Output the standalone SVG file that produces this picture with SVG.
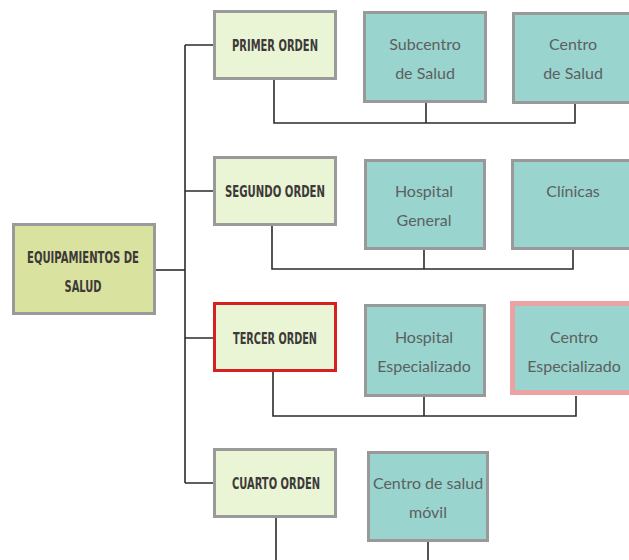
<svg xmlns="http://www.w3.org/2000/svg" width="629" height="560" viewBox="0 0 629 560">
  <style>
    .bg { fill: #ffffff; }
    .root { fill: #d9e29e; stroke: #9a9a9a; stroke-width: 3; }
    .order { fill: #e9f5d4; stroke: #9a9a9a; stroke-width: 3; }
    .order-hl { fill: #e9f5d4; stroke: #d42222; stroke-width: 3; }
    .unit { fill: #99d4ce; stroke: #999999; stroke-width: 3; }
    .unit-hl { fill: #99d4ce; stroke: #eba2a2; stroke-width: 5; }
    .lbl-b { font-family: "Liberation Sans Narrow", "DejaVu Sans Condensed", "Liberation Sans", sans-serif; font-weight: bold; font-size: 16px; fill: #3d3939; text-anchor: middle; }
    .lbl { font-family: Lato, "Open Sans", "Liberation Sans", sans-serif; font-size: 16px; fill: #5c6060; text-anchor: middle; }
    .wire { fill: none; stroke: #2b2b2b; stroke-width: 1.6; }
  </style>
  <rect class="bg" x="0" y="0" width="629" height="560"/>

  <g id="connectors">
    <!-- root to trunk -->
    <path class="wire" d="M155 270 H185"/>
    <path class="wire" d="M185 45 V483"/>
    <path class="wire" d="M185 45 H213 M185 191 H213 M185 338 H213 M185 483 H213"/>
    <!-- primer orden -->
    <path class="wire" d="M274 79 V123 H575 V104 M426 102 V123"/>
    <!-- segundo orden -->
    <path class="wire" d="M272 225 V269 H573 V250 M424 249 V269"/>
    <!-- tercer orden -->
    <path class="wire" d="M273 371 V416 H576 V396 M424 396 V416"/>
    <!-- cuarto orden -->
    <path class="wire" d="M276 517 V560 M428 541 V560"/>
  </g>

  <g id="equipamientos">
    <rect class="root" x="13.5" y="224.5" width="141" height="89"/>
    <text class="lbl-b" x="83" y="263" textLength="112" lengthAdjust="spacingAndGlyphs">EQUIPAMIENTOS DE</text>
    <text class="lbl-b" x="83" y="292" textLength="37" lengthAdjust="spacingAndGlyphs">SALUD</text>
  </g>

  <g id="primer-orden">
    <rect class="order" x="214.5" y="11.5" width="121" height="67"/>
    <text class="lbl-b" x="275" y="51" textLength="86" lengthAdjust="spacingAndGlyphs">PRIMER ORDEN</text>
  </g>
  <g id="subcentro">
    <rect class="unit" x="364.5" y="12.5" width="121" height="89"/>
    <text class="lbl" x="425" y="50">Subcentro</text>
    <text class="lbl" x="425" y="79">de Salud</text>
  </g>
  <g id="centro-salud">
    <rect class="unit" x="513.5" y="13.5" width="120" height="89"/>
    <text class="lbl" x="573" y="50">Centro</text>
    <text class="lbl" x="573" y="79">de Salud</text>
  </g>

  <g id="segundo-orden">
    <rect class="order" x="214.5" y="157.5" width="121" height="67"/>
    <text class="lbl-b" x="275" y="197" textLength="100" lengthAdjust="spacingAndGlyphs">SEGUNDO ORDEN</text>
  </g>
  <g id="hospital-general">
    <rect class="unit" x="365.5" y="160.5" width="119" height="88"/>
    <text class="lbl" x="424" y="197">Hospital</text>
    <text class="lbl" x="424" y="226">General</text>
  </g>
  <g id="clinicas">
    <rect class="unit" x="512.5" y="160.5" width="120" height="88"/>
    <text class="lbl" x="573" y="197">Clínicas</text>
  </g>

  <g id="tercer-orden">
    <rect class="order-hl" x="214.5" y="303.5" width="121" height="67"/>
    <text class="lbl-b" x="275" y="344" textLength="84" lengthAdjust="spacingAndGlyphs">TERCER ORDEN</text>
  </g>
  <g id="hospital-especializado">
    <rect class="unit" x="365.5" y="305.5" width="119" height="90"/>
    <text class="lbl" x="424" y="343">Hospital</text>
    <text class="lbl" x="424" y="372">Especializado</text>
  </g>
  <g id="centro-especializado">
    <rect class="unit-hl" x="512.5" y="303.5" width="122" height="89"/>
    <text class="lbl" x="574" y="343">Centro</text>
    <text class="lbl" x="574" y="372">Especializado</text>
  </g>

  <g id="cuarto-orden">
    <rect class="order" x="214.5" y="449.5" width="121" height="67"/>
    <text class="lbl-b" x="276" y="489" textLength="88" lengthAdjust="spacingAndGlyphs">CUARTO ORDEN</text>
  </g>
  <g id="centro-movil">
    <rect class="unit" x="368.5" y="452.5" width="119" height="88"/>
    <text class="lbl" x="428" y="489">Centro de salud</text>
    <text class="lbl" x="428" y="518">móvil</text>
  </g>
</svg>
